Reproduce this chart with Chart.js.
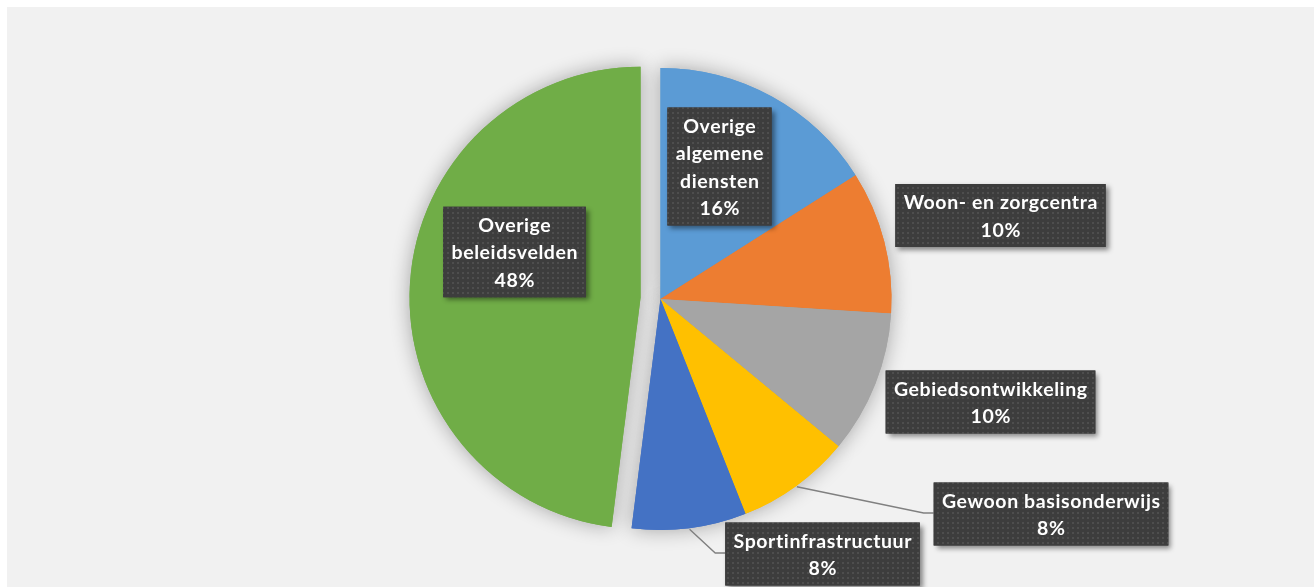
<!DOCTYPE html>
<html>
<head>
<meta charset="utf-8">
<script src="https://cdn.jsdelivr.net/npm/chart.js@4"></script>
<style>
html,body{margin:0;padding:0;background:#fff;}
canvas{display:block;}
</style>
</head>
<body>
<canvas id="c" width="1314" height="587"></canvas>
<script>
// ---- data ----
const categories = ['Overige algemene diensten','Woon- en zorgcentra','Gebiedsontwikkeling','Gewoon basisonderwijs','Sportinfrastructuur','Overige beleidsvelden'];
const values = [16, 10, 10, 8, 8, 48];
const labelLines = [['Overige','algemene','diensten'],['Woon- en zorgcentra'],['Gebiedsontwikkeling'],['Gewoon basisonderwijs'],['Sportinfrastructuur'],['Overige','beleidsvelden']];

// ---- styles ----
const colors = ['#5B9BD5','#ED7D31','#A5A5A5','#FFC000','#4472C4','#70AD47'];
const explode = [0,0,0,0,0,20];
// label box centre relative to pie centre (px)
const labelOffsets = [[59,-132.5],[340,-83.5],[330,103],[390.5,215],[162,255],[-146,-47]];
const hasLeader = [false,false,false,true,true,false];

const FONT = 'bold 19.5px Lato, "Open Sans", sans-serif';
const LETTER = '0.6px';
const LINE_H = 27.5;

function makePattern(ctx){
  const p = document.createElement('canvas');
  p.width = 5; p.height = 5;
  const g = p.getContext('2d');
  g.fillStyle = '#3D3D3D'; g.fillRect(0,0,5,5);
  g.fillStyle = '#4E4E4E'; g.fillRect(2,2,2,2);
  return ctx.createPattern(p,'repeat');
}

const bgPlugin = {
  id:'bg',
  beforeDraw(chart){
    const ctx = chart.ctx;
    ctx.save();
    ctx.fillStyle = '#FFFFFF';
    ctx.fillRect(0,0,chart.width,chart.height);
    ctx.fillStyle = '#F1F1F1';
    ctx.fillRect(7,7,chart.width-7,chart.height-7);
    ctx.restore();
  }
};

// exploded slice: pure translation along the slice's mid angle
function wrapExplode(chart){
  const meta = chart.getDatasetMeta(0);
  meta.data.forEach((arc,i)=>{
    if (!explode[i] || arc._wrapped) return;
    const orig = arc.draw;
    arc.draw = function(ctx){
      const mid = (this.startAngle + this.endAngle)/2;
      ctx.save();
      ctx.translate(Math.cos(mid)*explode[i], Math.sin(mid)*explode[i]);
      orig.call(this, ctx);
      ctx.restore();
    };
    arc._wrapped = true;
  });
}

const shadowPlugin = {
  id:'pieShadow',
  beforeDatasetsDraw(chart){
    wrapExplode(chart);
    const ctx = chart.ctx;
    const meta = chart.getDatasetMeta(0);
    ctx.save();
    ctx.shadowColor = 'rgba(0,0,0,0.32)';
    ctx.shadowBlur = 20;
    meta.data.forEach(a => a.draw(ctx));
    ctx.restore();
  }
};

const labelPlugin = {
  id:'boxLabels',
  afterDatasetsDraw(chart){
    const ctx = chart.ctx;
    const meta = chart.getDatasetMeta(0);
    const total = values.reduce((s,v)=>s+v,0);
    const pattern = makePattern(ctx);
    meta.data.forEach((arc,i)=>{
      const p = arc.getProps(['x','y','startAngle','endAngle','outerRadius'], true);
      const lines = labelLines[i].concat([Math.round(values[i]/total*100)+'%']);
      ctx.save();
      ctx.font = FONT;
      ctx.letterSpacing = LETTER;
      let w = 0;
      lines.forEach(l => { w = Math.max(w, ctx.measureText(l).width); });
      const bw = w + 16;
      const bh = lines.length*LINE_H + 8;
      const cx = p.x + labelOffsets[i][0];
      const cy = p.y + labelOffsets[i][1];
      const left = cx - bw/2, top = cy - bh/2;
      if (hasLeader[i]) {
        const mid = (p.startAngle + p.endAngle)/2;
        const sx = p.x + Math.cos(mid)*(p.outerRadius+1);
        const sy = p.y + Math.sin(mid)*(p.outerRadius+1);
        ctx.strokeStyle = '#808080';
        ctx.lineWidth = 1.4;
        ctx.beginPath();
        ctx.moveTo(sx, sy);
        ctx.lineTo(left - 10, cy - 1);
        ctx.lineTo(left, cy - 1);
        ctx.stroke();
      }
      ctx.save();
      ctx.shadowColor = 'rgba(0,0,0,0.45)';
      ctx.shadowBlur = 5;
      ctx.shadowOffsetX = 3;
      ctx.shadowOffsetY = 3;
      ctx.fillStyle = '#3D3D3D';
      ctx.fillRect(left, top, bw, bh);
      ctx.restore();
      ctx.fillStyle = pattern;
      ctx.fillRect(left, top, bw, bh);
      ctx.fillStyle = '#FFFFFF';
      ctx.textAlign = 'center';
      ctx.textBaseline = 'middle';
      const startY = cy - (lines.length-1)*LINE_H/2 + 1;
      lines.forEach((l,k)=> ctx.fillText(l, cx + 0.3, startY + k*LINE_H));
      ctx.restore();
    });
  }
};

new Chart(document.getElementById('c'), {
  type:'pie',
  data:{
    labels: categories,
    datasets:[{
      data: values,
      backgroundColor: colors,
      borderWidth: 0,
      hoverOffset: 0
    }]
  },
  options:{
    responsive:false,
    animation:false,
    devicePixelRatio:1,
    radius: 231,
    layout:{padding:{left:410.5, right:403.5, top:49, bottom:38}},
    plugins:{legend:{display:false}, tooltip:{enabled:false}},
    events:[]
  },
  plugins:[bgPlugin, shadowPlugin, labelPlugin]
});
</script>
</body>
</html>
